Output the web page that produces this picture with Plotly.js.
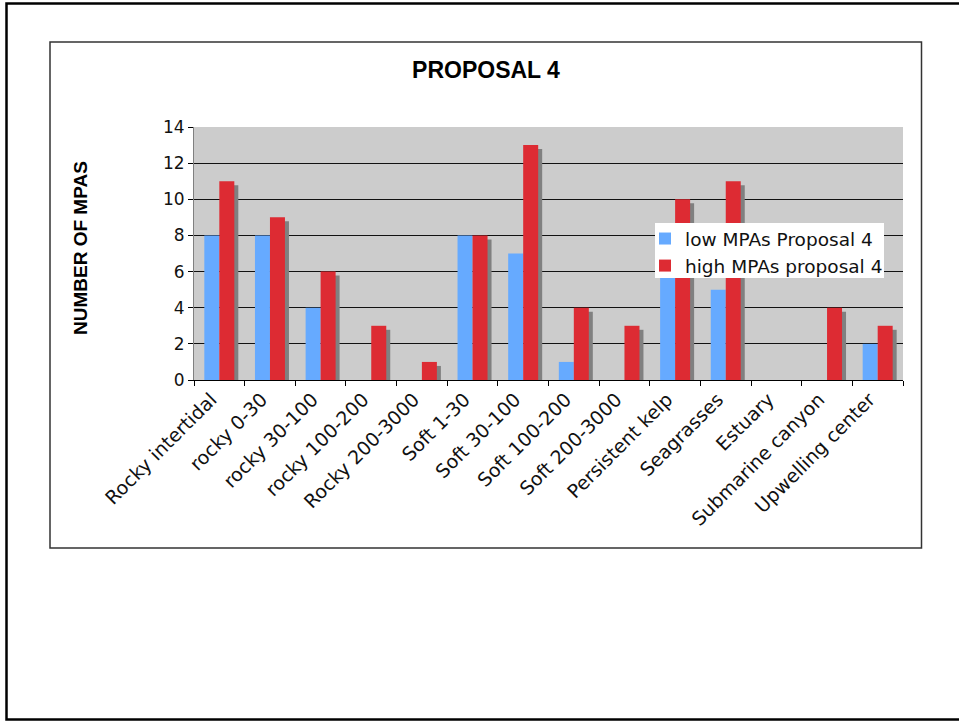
<!DOCTYPE html>
<html>
<head>
<meta charset="utf-8">
<script src="https://cdn.plot.ly/plotly-3.0.1.min.js"></script>
<style>
html,body{margin:0;padding:0;background:#fff;}
#chart{width:959px;height:721px;}
</style>
</head>
<body>
<div id="chart"></div>
<script>
// ---- data ----
const categories = ["Rocky intertidal","rocky 0-30","rocky 30-100","rocky 100-200","Rocky 200-3000","Soft 1-30","Soft 30-100","Soft 100-200","Soft 200-3000","Persistent kelp","Seagrasses","Estuary","Submarine canyon","Upwelling center"];
const lowValues  = [8, 8, 4, 0, 0, 8, 7, 1, 0, 6, 5, 0, 0, 2];
const highValues = [11, 9, 6, 3, 1, 8, 13, 4, 3, 10, 11, 0, 4, 3];
const seriesNames = ["low MPAs Proposal 4", "high MPAs proposal 4"];
const yTickVals = [0, 2, 4, 6, 8, 10, 12, 14];

// ---- geometry (px) ----
const W = 959, H = 721;
const L = 194, R = 903, T = 127, B = 380;
const pw = R - L, ph = B - T;
const px2x = p => (p - L) / pw;
const px2y = p => (B - p) / ph;
const yMax = 14;
const catPx = pw / categories.length;
const barW = 15 / catPx;
const shOff = 4 / catPx;
const shDrop = 4 * yMax / ph;

const font = "DejaVu Sans, Verdana, sans-serif";
const boldFont = "Liberation Sans, Arial, sans-serif";

const traces = [
  {type:"bar", x:categories, y:lowValues, name:seriesNames[0], offset:-barW, width:barW,
   marker:{color:"#66aaff", line:{width:0}}, hoverinfo:"skip"},
  {type:"bar", x:categories, y:highValues, base:-shDrop, offset:shOff, width:barW,
   marker:{color:"#808080", line:{width:0}}, showlegend:false, hoverinfo:"skip"},
  {type:"bar", x:categories, y:highValues, name:seriesNames[1], offset:0, width:barW,
   marker:{color:"#dd2b33", line:{width:0}}, hoverinfo:"skip"}
];

const layout = {
  width: W, height: H,
  margin: {l: L, r: W - R, t: T, b: H - B, pad: 0},
  paper_bgcolor: "#ffffff",
  plot_bgcolor: "#cccccc",
  barmode: "overlay",
  showlegend: true,
  title: {text: "<b>PROPOSAL 4</b>", font: {family: boldFont, size: 23, color: "#000"},
          xref: "container", yref: "container", x: 486 / W, xanchor: "center", y: 1 - 70 / H, yanchor: "middle"},
  xaxis: {
    type: "category", range: [-0.5, categories.length - 0.5],
    tickangle: -45, tickson: "boundaries", ticks: "outside", ticklen: 5, tickcolor: "#000", tickwidth: 1,
    ticklabelshift: -8,
    showline: true, linecolor: "#000", linewidth: 1, showgrid: false,
    tickfont: {family: font, size: 19, color: "#111"}, automargin: false
  },
  yaxis: {
    range: [0, yMax], tickvals: yTickVals, ticks: "outside", ticklen: 5, tickcolor: "#000",
    showline: true, linecolor: "#808080", linewidth: 1,
    showgrid: true, gridcolor: "#111", gridwidth: 1, zeroline: false,
    tickfont: {family: font, size: 17, color: "#111"}, automargin: false
  },
  legend: {
    x: px2x(645), y: px2y(220), xanchor: "left", yanchor: "top",
    bgcolor: "rgba(0,0,0,0)", borderwidth: 0,
    font: {family: font, size: 18.5, color: "#111"},
    traceorder: "normal", itemwidth: 30, tracegroupgap: 0
  },
  annotations: [
    {text: "<b>NUMBER OF MPAS</b>", textangle: -90, xref: "paper", yref: "paper",
     x: px2x(80), y: px2y(248), xanchor: "center", yanchor: "middle", showarrow: false,
     font: {family: boldFont, size: 19, color: "#000"}}
  ],
  shapes: [
    {type: "rect", xref: "paper", yref: "paper", x0: px2x(50), x1: px2x(921.5), y0: px2y(42), y1: px2y(548),
     line: {color: "#333", width: 1.5}, fillcolor: "rgba(0,0,0,0)", layer: "below"},
    {type: "rect", xref: "paper", yref: "paper", x0: px2x(6.5), x1: px2x(962), y0: px2y(3.5), y1: px2y(719.5),
     line: {color: "#000", width: 2.5}, fillcolor: "rgba(0,0,0,0)", layer: "below"},
    {type: "rect", xref: "paper", yref: "paper", x0: px2x(655), x1: px2x(884), y0: px2y(223), y1: px2y(278),
     line: {width: 0}, fillcolor: "#ffffff", layer: "above"}
  ]
};

Plotly.newPlot("chart", traces, layout, {displayModeBar: false, staticPlot: true});
</script>
</body>
</html>
